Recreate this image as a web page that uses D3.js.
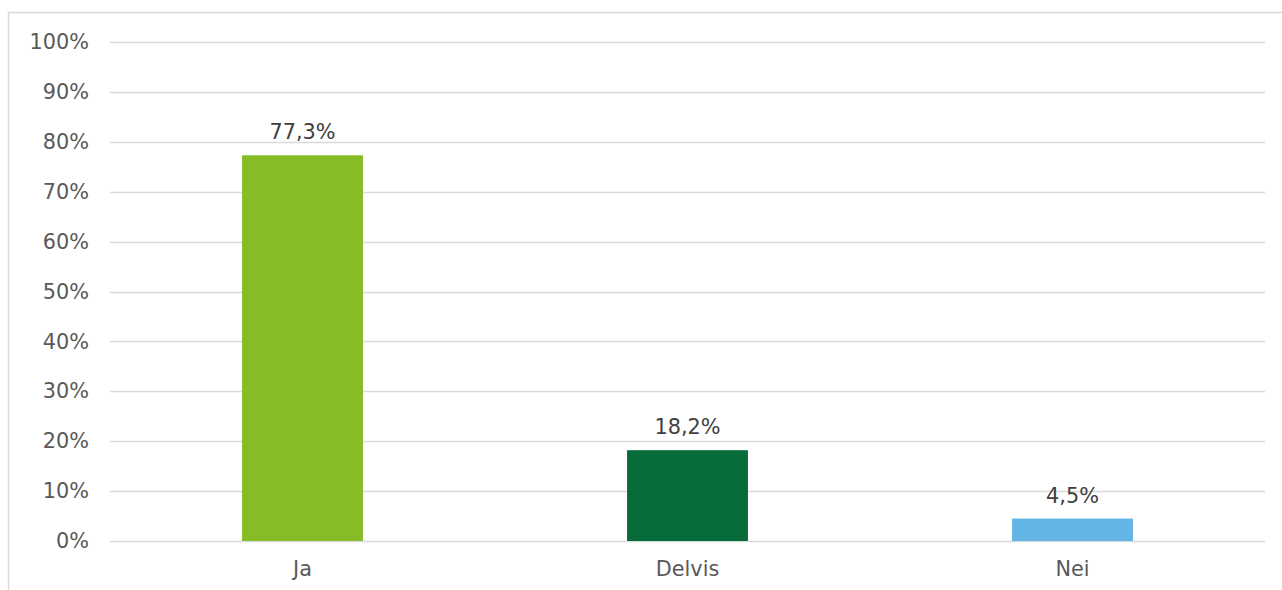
<!DOCTYPE html>
<html>
<head>
<meta charset="utf-8">
<script src="https://cdn.jsdelivr.net/npm/d3@7"></script>
<style>
  html, body { margin: 0; padding: 0; background: #fff; }
  svg { display: block; font-family: "DejaVu Sans", Verdana, sans-serif; }
</style>
</head>
<body>
<svg id="chart" width="1282" height="590"></svg>
<script>
// Answer categories and their shares (percent)
const categories = ["Ja", "Delvis", "Nei"];
const values = [77.3, 18.2, 4.5];
const barColors = ["#86bc25", "#076b3a", "#62b5e5"];
const yTicks = [0, 10, 20, 30, 40, 50, 60, 70, 80, 90, 100];

const svg = d3.select("#chart");
const W = 1282, H = 590;
const plot = { left: 110, right: 1265, top: 42, bottom: 541 };
const fontSize = "20.8px";

// Outer chart frame (left and top edges visible)
svg.append("path")
  .attr("d", `M8.5,${H} L8.5,12.5 L${W},12.5`)
  .attr("fill", "none")
  .attr("stroke", "#d9d9d9")
  .attr("stroke-width", 1.5);

const x = d3.scaleBand()
  .domain(categories)
  .range([plot.left, plot.right])
  .paddingInner(0.686)
  .paddingOuter(0.343);

const y = d3.scaleLinear()
  .domain([0, 100])
  .range([plot.bottom, plot.top]);

// Horizontal gridlines
svg.append("g")
  .selectAll("line")
  .data(yTicks)
  .join("line")
  .attr("x1", plot.left)
  .attr("x2", plot.right)
  .attr("y1", d => Math.round(y(d)) + 0.5)
  .attr("y2", d => Math.round(y(d)) + 0.5)
  .attr("stroke", "#d9d9d9")
  .attr("stroke-width", 1.5);

// Y axis labels
const yAxis = d3.axisLeft(y)
  .tickValues(yTicks)
  .tickFormat(d => d + "%")
  .tickSize(0)
  .tickPadding(21);
const gy = svg.append("g")
  .attr("transform", `translate(${plot.left},0)`)
  .call(yAxis);
gy.select(".domain").remove();
gy.selectAll("text")
  .attr("fill", "#595959")
  .style("font-size", fontSize)
  .style("font-family", "'DejaVu Sans', Verdana, sans-serif");

// X axis labels
const xAxis = d3.axisBottom(x).tickSize(0).tickPadding(20);
const gx = svg.append("g")
  .attr("transform", `translate(0,${plot.bottom})`)
  .call(xAxis);
gx.select(".domain").remove();
gx.selectAll("text")
  .attr("fill", "#595959")
  .style("font-size", fontSize)
  .style("font-family", "'DejaVu Sans', Verdana, sans-serif");

// Bars
const data = categories.map((c, i) => ({ c, v: values[i], color: barColors[i] }));
svg.append("g")
  .selectAll("rect")
  .data(data)
  .join("rect")
  .attr("x", d => x(d.c))
  .attr("width", x.bandwidth())
  .attr("y", d => y(d.v))
  .attr("height", d => y(0) - y(d.v))
  .attr("fill", d => d.color);

// Value labels above bars
const fmt = v => v.toFixed(1).replace(".", ",") + "%";
svg.append("g")
  .selectAll("text")
  .data(data)
  .join("text")
  .attr("x", d => x(d.c) + x.bandwidth() / 2)
  .attr("y", d => y(d.v) - 16)
  .attr("text-anchor", "middle")
  .attr("fill", "#404040")
  .style("font-size", fontSize)
  .text(d => fmt(d.v));
</script>
</body>
</html>
